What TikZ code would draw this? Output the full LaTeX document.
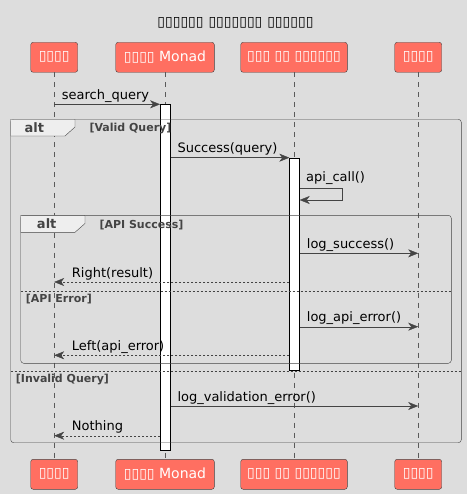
\documentclass[tikz,border=0pt]{standalone}
\usepackage{fontspec}
\setmainfont{DejaVu Sans}
\usetikzlibrary{arrows.meta}

\definecolor{bgc}{RGB}{221,221,221}
\definecolor{partfill}{RGB}{255,111,97}
\definecolor{linec}{RGB}{68,68,68}
\definecolor{lifec}{RGB}{90,90,90}
\definecolor{tabc}{RGB}{238,238,238}

\tikzset{
  part/.style={draw=linec, fill=partfill, rounded corners=2.5pt, text=white,
    font=\fontsize{14}{16}\selectfont, minimum height=30pt, inner sep=0pt},
  actbar/.style={draw=black, fill=white, minimum width=10pt, inner sep=0pt, anchor=north},
  msg/.style={draw=linec, -{Stealth[length=10pt,width=8pt,inset=3pt]}},
  ret/.style={msg, dash pattern=on 2pt off 2pt},
  lbl/.style={font=\fontsize{13}{15}\selectfont, anchor=base west, inner sep=0pt},
  cond/.style={font=\bfseries\fontsize{11}{13}\selectfont, text=linec, anchor=base west, inner sep=0pt},
  altlbl/.style={font=\bfseries\fontsize{13}{15}\selectfont, text=linec},
  lifeline/.style={draw=lifec, dash pattern=on 5pt off 5pt},
  sep/.style={draw=linec, dash pattern=on 2pt off 2pt},
}

\begin{document}
\begin{tikzpicture}[x=1pt, y=-1pt]
\fill[bgc] (0,0) rectangle (467,494);
\useasboundingbox (0,0) rectangle (467,494);

\node[font=\bfseries\fontsize{14}{16}\selectfont] (title) at (235.5,23) {▯▯▯▯▯▯ ▯▯▯▯▯▯▯ ▯▯▯▯▯▯};

% participants
\node[part, minimum width=47pt] (user) at (54.2,57.3) {▯▯▯▯};
\node[part, minimum width=98.6pt] (monad) at (165,57.3) {▯▯▯▯ Monad};
\node[part, minimum width=106.6pt] (api) at (294,57.3) {▯▯▯ ▯▯ ▯▯▯▯▯▯};
\node[part, minimum width=47pt] (logger) at (418.2,57.3) {▯▯▯▯};
\node[part, minimum width=47pt] (user2) at (54.2,474.3) {▯▯▯▯};
\node[part, minimum width=98.6pt] (monad2) at (165,474.3) {▯▯▯▯ Monad};
\node[part, minimum width=106.6pt] (api2) at (294,474.3) {▯▯▯ ▯▯ ▯▯▯▯▯▯};
\node[part, minimum width=47pt] (logger2) at (418.2,474.3) {▯▯▯▯};

% lifelines
\draw[lifeline] (user) -- (user2);
\draw[lifeline] (monad) -- (monad2);
\draw[lifeline] (api) -- (api2);
\draw[lifeline] (logger) -- (logger2);

% activations
\node[actbar, minimum height=346pt] (monadbar) at (165.3,104.3) {};
\node[actbar, minimum height=212.3pt] (apibar) at (294.5,157.7) {};

% alt frames
\draw[linec, rounded corners=3pt] (10.7,119.3) rectangle (461.3,442.7);
\filldraw[fill=tabc, draw=linec] (10.7,136) -- (10.7,119.3) -- (75,119.3) -- (75,127) -- (65,136) -- cycle;
\node[altlbl] at (34.3,128) {alt};
\node[cond] at (89.3,132) {[Valid Query]};
\draw[sep] (10.7,371.3) -- (461.3,371.3);
\node[cond] at (15.7,382) {[Invalid Query]};

\draw[linec, rounded corners=3pt] (20.7,215.3) rectangle (451.3,363.3);
\filldraw[fill=tabc, draw=linec] (20.7,232.3) -- (20.7,215.3) -- (85,215.3) -- (85,223.5) -- (75,232.3) -- cycle;
\node[altlbl] at (46.7,224) {alt};
\node[cond] at (99.3,228) {[API Success]};
\draw[sep] (20.7,291.3) -- (451.3,291.3);
\node[cond] at (25.7,302.5) {[API Error]};

% messages
\draw[msg] (user |- 0,104.3) -- (monadbar.north west);
\node[lbl] at (61.7,99.3) {search\_query};
\draw[msg] (monadbar.east |- 0,157.7) -- (apibar.north west);
\node[lbl] at (177.3,152.7) {Success(query)};
\draw[msg] (apibar.east |- 0,188) -- (341.7,188) -- (341.7,200) -- (apibar.east |- 0,200);
\node[lbl] at (306,181.5) {api\_call()};
\draw[msg] (apibar.east |- 0,253.3) -- (logger |- 0,253.3);
\node[lbl] at (306.7,248.3) {log\_success()};
\draw[ret] (apibar.west |- 0,282) -- (user |- 0,282);
\node[lbl] at (71.7,277) {Right(result)};
\draw[msg] (apibar.east |- 0,326.7) -- (logger |- 0,326.7);
\node[lbl] at (306.7,321.7) {log\_api\_error()};
\draw[ret] (apibar.west |- 0,355.3) -- (user |- 0,355.3);
\node[lbl] at (71.7,350.3) {Left(api\_error)};
\draw[msg] (monadbar.east |- 0,406) -- (logger |- 0,406);
\node[lbl] at (177.3,401) {log\_validation\_error()};
\draw[ret] (monadbar.west |- 0,435.7) -- (user |- 0,435.7);
\node[lbl] at (71.7,430.7) {Nothing};
\end{tikzpicture}
\end{document}
